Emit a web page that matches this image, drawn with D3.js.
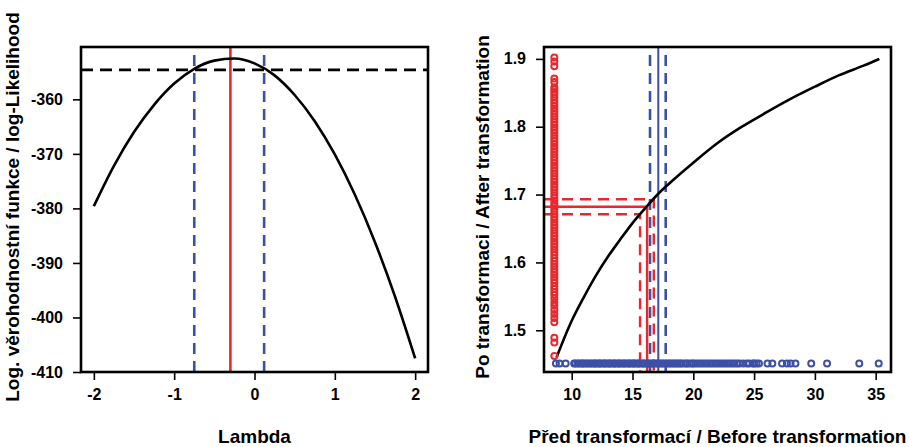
<!DOCTYPE html>
<html>
<head>
<meta charset="utf-8">
<script src="https://cdn.jsdelivr.net/npm/d3@7"></script>
<style>
  html, body { margin: 0; padding: 0; background: #fff; }
  svg { display: block; }
  text { font-family: "Liberation Sans", Arial, sans-serif; font-weight: bold; fill: #000; }
</style>
</head>
<body>
<svg id="chart" width="909" height="447"></svg>
<script>
// ---- Profile log-likelihood of the Box-Cox parameter ----
const lambdaGrid = [-2, -1.75, -1.5, -1.25, -1, -0.75, -0.5, -0.25, 0, 0.25, 0.5, 0.75, 1, 1.25, 1.5, 1.75, 2];
const logLik     = [-379.6, -372.2, -366.0, -361.0, -357.1, -354.4, -352.9, -352.5, -353.4, -355.6, -359.2, -364.0, -370.1, -377.5, -386.2, -396.2, -407.5];
const lambdaHat = -0.3;          // maximum likelihood estimate
const lambdaCI = [-0.75, 0.12];  // 95% interval
const logLikCut = -354.6;        // max - chi2(0.95,1)/2
const leftXTicks = [-2, -1, 0, 1, 2];
const leftYTicks = [-410, -400, -390, -380, -370, -360];

// ---- Transformation curve: original vs transformed values ----
const curveBefore = [8.75, 10, 11, 12, 13, 14, 15, 16, 17, 18, 20, 22, 24, 26, 28, 30, 32, 34, 35.3];
const curveAfter  = [1.460, 1.514, 1.549, 1.581, 1.609, 1.634, 1.658, 1.679, 1.699, 1.716, 1.747, 1.776, 1.800, 1.821, 1.841, 1.859, 1.876, 1.890, 1.900];
const meanBefore = 17.12;
const meanBeforeCI = [16.44, 17.73];
const meanAfter = 1.682;
const meanAfterCI = [1.671, 1.693];
const backBefore = [15.62, 16.2, 16.75];  // back-transformed mean and its interval
const rightXTicks = [10, 15, 20, 25, 30, 35];
const rightYTicks = [1.5, 1.6, 1.7, 1.8, 1.9];

// observations before transformation (drawn along the bottom)
const before = [8.7, 9.0, 9.5, 10.2, 10.3, 10.5, 10.6, 10.8, 10.9, 11.0, 11.2, 11.3, 11.5, 11.6, 11.8, 11.9,
  12.0, 12.2, 12.3, 12.4, 12.6, 12.7, 12.8, 13.0, 13.1, 13.2, 13.4, 13.5, 13.6, 13.8, 13.9, 14.0, 14.2, 14.3,
  14.4, 14.6, 14.7, 14.8, 15.0, 15.1, 15.2, 15.4, 15.5, 15.6, 15.8, 15.9, 16.0, 16.2, 16.3, 16.4, 16.6, 16.7,
  16.8, 17.0, 17.1, 17.2, 17.4, 17.5, 17.7, 17.8, 18.0, 18.1, 18.3, 18.4, 18.6, 18.7, 18.9, 19.0, 19.2, 19.4,
  19.5, 19.7, 19.9, 20.0, 20.2, 20.4, 20.6, 20.8, 21.0, 21.2, 21.4, 21.6, 21.8, 22.0, 22.2, 22.4, 22.6, 22.8,
  23.0, 23.2, 23.4, 23.6, 23.8, 24.1, 24.4, 24.6, 24.9, 25.0, 25.2, 25.4, 26.1, 26.5, 27.3, 27.7, 28.0, 28.4,
  29.7, 31.0, 33.65, 35.25];
// observations after transformation (drawn along the left side)
const after = [1.462, 1.482, 1.489, 1.512, 1.518, 1.524, 1.530, 1.536, 1.541, 1.547, 1.552, 1.556, 1.561, 1.565,
  1.570, 1.574, 1.578, 1.582, 1.586, 1.590, 1.594, 1.598, 1.602, 1.606, 1.611, 1.615, 1.619, 1.623, 1.627, 1.631,
  1.635, 1.639, 1.643, 1.647, 1.651, 1.655, 1.659, 1.663, 1.667, 1.671, 1.675, 1.679, 1.683, 1.687, 1.691, 1.695,
  1.699, 1.703, 1.707, 1.711, 1.715, 1.719, 1.723, 1.727, 1.731, 1.735, 1.739, 1.743, 1.747, 1.751, 1.755, 1.759,
  1.763, 1.767, 1.771, 1.775, 1.779, 1.783, 1.787, 1.791, 1.795, 1.799, 1.803, 1.807, 1.811, 1.815, 1.819, 1.823,
  1.827, 1.831, 1.835, 1.839, 1.843, 1.847, 1.851, 1.855, 1.858, 1.866, 1.871, 1.889, 1.896, 1.902];
const rugAfterAt = 8.57;   // x position of the transformed values
const rugBeforeAt = 1.451; // y position of the original values

const RED = "#e8282c", BLUE = "#3c50a5";
const svg = d3.select("#chart");

function frame(g, x, y, xTicks, yTicks, fmtY) {
  const [x0, x1] = x.range(), [y1, y0] = y.range();
  g.append("g").attr("transform", `translate(0,${y1})`)
    .call(d3.axisBottom(x).tickValues(xTicks).tickSize(8).tickSizeOuter(0).tickPadding(9).tickFormat(d => String(d)))
    .call(a => a.selectAll("text").attr("font-size", 16).attr("font-family", "Liberation Sans, Arial, sans-serif").attr("font-weight", "bold"));
  g.append("g").attr("transform", `translate(${x0},0)`)
    .call(d3.axisLeft(y).tickValues(yTicks).tickSize(8).tickSizeOuter(0).tickPadding(10).tickFormat(fmtY))
    .call(a => a.selectAll("text").attr("font-size", 16).attr("font-family", "Liberation Sans, Arial, sans-serif").attr("font-weight", "bold"));
  g.selectAll(".domain").remove();
  g.selectAll(".tick line").attr("stroke", "#000").attr("stroke-width", 1.6);
  g.append("rect").attr("x", x0).attr("y", y0).attr("width", x1 - x0).attr("height", y1 - y0)
    .attr("fill", "none").attr("stroke", "#000").attr("stroke-width", 2.6);
}

function clip(id, x, y) {
  const [x0, x1] = x.range(), [y1, y0] = y.range();
  svg.append("clipPath").attr("id", id).append("rect")
    .attr("x", x0).attr("y", y0).attr("width", x1 - x0).attr("height", y1 - y0);
}

// ================= Left panel =================
const xL = d3.scaleLinear().domain([-2.16, 2.16]).range([81, 428]);
const yL = d3.scaleLinear().domain([-410, -350.4]).range([372, 47]);
clip("clipL", xL, yL);
const gL = svg.append("g");
const pL = gL.append("g").attr("clip-path", "url(#clipL)");

pL.append("line").attr("x1", xL.range()[0]).attr("x2", xL.range()[1])
  .attr("y1", yL(logLikCut)).attr("y2", yL(logLikCut))
  .attr("stroke", "#000").attr("stroke-width", 2.6).attr("stroke-dasharray", "12,7");
pL.selectAll("line.ci").data(lambdaCI).join("line").attr("class", "ci")
  .attr("x1", d => xL(d)).attr("x2", d => xL(d)).attr("y1", yL.range()[0]).attr("y2", yL.range()[1])
  .attr("stroke", BLUE).attr("stroke-width", 2.6).attr("stroke-dasharray", "11,7");
pL.append("line").attr("x1", xL(lambdaHat)).attr("x2", xL(lambdaHat))
  .attr("y1", yL.range()[0]).attr("y2", yL.range()[1])
  .attr("stroke", RED).attr("stroke-width", 2.6);
pL.append("path")
  .datum(lambdaGrid.map((l, i) => [l, logLik[i]]))
  .attr("d", d3.line().x(d => xL(d[0])).y(d => yL(d[1])).curve(d3.curveMonotoneX))
  .attr("fill", "none").attr("stroke", "#000").attr("stroke-width", 2.6);

frame(gL, xL, yL, leftXTicks, leftYTicks, d => String(d));

svg.append("text").attr("x", 254.5).attr("y", 443).attr("text-anchor", "middle")
  .attr("font-size", 19).text("Lambda");
svg.append("text").attr("transform", "translate(19,207) rotate(-90)").attr("text-anchor", "middle")
  .attr("font-size", 19).text("Log. věrohodnostní funkce / log-Likelihood");

// ================= Right panel =================
const xR = d3.scaleLinear().domain([7.72, 36.26]).range([544, 891]);
const yR = d3.scaleLinear().domain([1.4385, 1.9175]).range([372, 47]);
clip("clipR", xR, yR);
const gR = svg.append("g");
const pR = gR.append("g").attr("clip-path", "url(#clipR)");

// mean of original data with interval
pR.append("line").attr("x1", xR(meanBefore)).attr("x2", xR(meanBefore))
  .attr("y1", yR.range()[0]).attr("y2", yR.range()[1])
  .attr("stroke", BLUE).attr("stroke-width", 2);
pR.selectAll("line.bci").data(meanBeforeCI).join("line").attr("class", "bci")
  .attr("x1", d => xR(d)).attr("x2", d => xR(d)).attr("y1", yR.range()[0]).attr("y2", yR.range()[1])
  .attr("stroke", BLUE).attr("stroke-width", 2.6).attr("stroke-dasharray", "11,7");

// back-transformed mean with interval
const afterLevels = [meanAfterCI[0], meanAfter, meanAfterCI[1]];
afterLevels.forEach((v, i) => {
  const dash = i === 1 ? null : "11,7";
  pR.append("path")
    .attr("d", d3.line()([[xR.range()[0], yR(v)], [xR(backBefore[i]), yR(v)], [xR(backBefore[i]), yR.range()[0]]]))
    .attr("fill", "none").attr("stroke", RED).attr("stroke-width", 2.4).attr("stroke-dasharray", dash);
});

pR.append("path")
  .datum(curveBefore.map((b, i) => [b, curveAfter[i]]))
  .attr("d", d3.line().x(d => xR(d[0])).y(d => yR(d[1])).curve(d3.curveMonotoneX))
  .attr("fill", "none").attr("stroke", "#000").attr("stroke-width", 2.6);

pR.selectAll("circle.after").data(after).join("circle").attr("class", "after")
  .attr("cx", xR(rugAfterAt)).attr("cy", d => yR(d)).attr("r", 3)
  .attr("fill", "none").attr("stroke", RED).attr("stroke-width", 2);
pR.selectAll("circle.before").data(before).join("circle").attr("class", "before")
  .attr("cx", d => xR(d)).attr("cy", yR(rugBeforeAt)).attr("r", 3)
  .attr("fill", "none").attr("stroke", BLUE).attr("stroke-width", 2);

frame(gR, xR, yR, rightXTicks, rightYTicks, d3.format(".1f"));

svg.append("text").attr("x", 717.5).attr("y", 443).attr("text-anchor", "middle")
  .attr("font-size", 19).text("Před transformací / Before transformation");
svg.append("text").attr("transform", "translate(489,207) rotate(-90)").attr("text-anchor", "middle")
  .attr("font-size", 19).text("Po transformaci / After transformation");
</script>
</body>
</html>
